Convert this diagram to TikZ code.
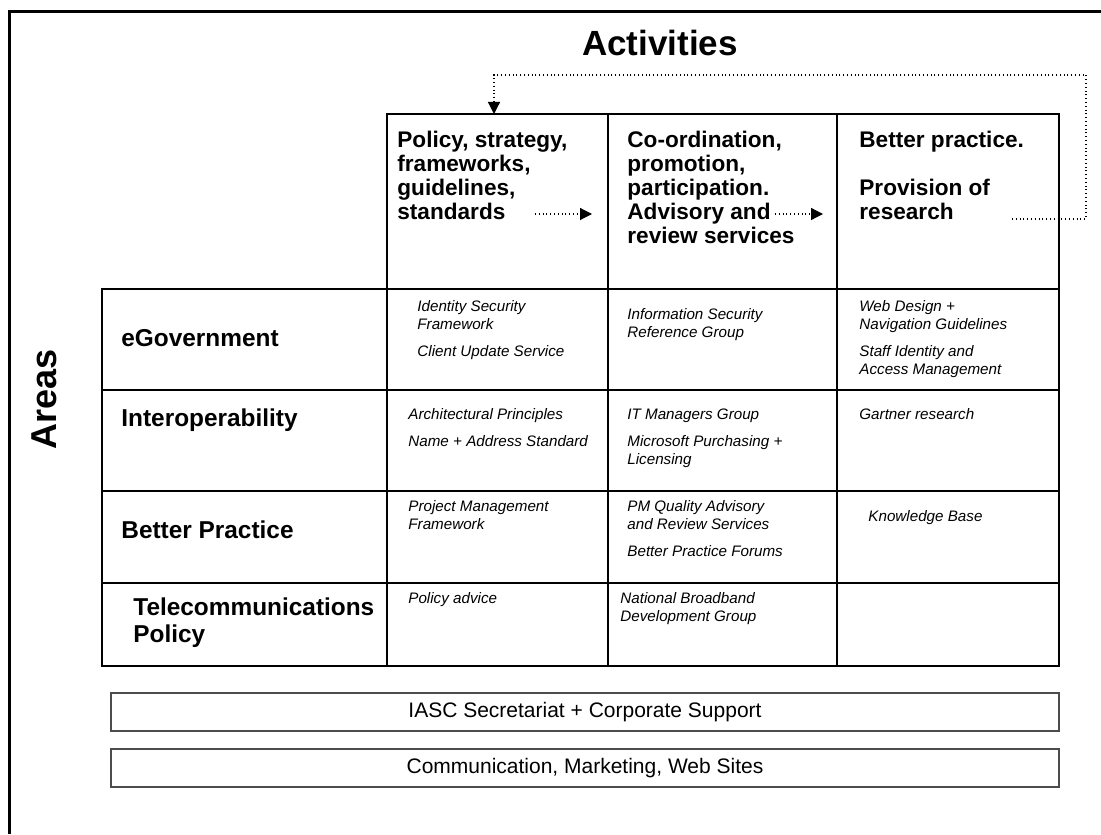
\documentclass[tikz,border=0pt]{standalone}
\usepackage{fontspec}
\setmainfont{Liberation Sans}
\usetikzlibrary{arrows.meta,positioning,calc}
\tikzset{
  tabline/.style={line width=0.75pt, black},
  headtxt/.style={anchor=north west, align=left, inner sep=0pt, font=\fontsize{11.3}{12}\selectfont\bfseries},
  areatxt/.style={anchor=west, align=left, inner sep=0pt, font=\fontsize{12.2}{13.5}\selectfont\bfseries},
  itemtxt/.style={anchor=north west, align=left, inner sep=0pt, font=\fontsize{7.6}{9}\selectfont\itshape},
  suppbox/.style={draw=black!70, line width=1pt, minimum width=474pt, minimum height=19pt, inner sep=0pt, font=\fontsize{10.5}{12}\selectfont},
  flow/.style={-{Triangle[length=6pt,width=6pt]}, dash pattern=on 0.5pt off 1.4pt, line width=0.6pt},
}

\begin{document}
\begin{tikzpicture}[x=0.5pt, y=-0.5pt]
\useasboundingbox (0,0) rectangle (1101,834);
% outer frame
\draw[line width=1.5pt] (9,834) -- (9,12) -- (1101,12);

% titles
\node[font=\fontsize{17.5}{20}\selectfont\bfseries] (acts) at (660,43) {Activities};
\node[font=\fontsize{18}{20}\selectfont\bfseries, rotate=90] (areas) at (44,399) {Areas};

% header cells and table
\draw[tabline] (387,114) rectangle (1059,289);
\draw[tabline] (102,289) rectangle (1059,666);
\draw[tabline] (387,114) -- (387,666);
\draw[tabline] (608,114) -- (608,666);
\draw[tabline] (837,114) -- (837,666);
\draw[tabline] (102,390) -- (1059,390);
\draw[tabline] (102,491) -- (1059,491);
\draw[tabline] (102,583) -- (1059,583);

% activity headings
\node[headtxt] (policy) at (397,131) {Policy, strategy,\\frameworks,\\guidelines,\\standards};
\node[headtxt] (coord) at (627,131) {Co-ordination,\\promotion,\\participation.\\Advisory and\\review services};
\node[headtxt] (better) at (859,131) {Better practice.\\[12pt]Provision of\\research};

% area labels
\node[areatxt] (egov) at (121,338) {eGovernment};
\node[areatxt] (interop) at (121,420) {Interoperability};
\node[areatxt] (bprac) at (121,530) {Better Practice};
\node[areatxt] (telco) at (133,623) {Telecommunications\\Policy};

% cell items
\node[itemtxt] (r1c1) at (417,300) {Identity Security\\Framework\\[4.5pt]Client Update Service};
\node[itemtxt] (r1c2) at (627,308) {Information Security\\Reference Group};
\node[itemtxt] (r1c3) at (859,300) {Web Design +\\Navigation Guidelines\\[4.5pt]Staff Identity and\\Access Management};
\node[itemtxt] (r2c1) at (408,408) {Architectural Principles\\[4.5pt]Name + Address Standard};
\node[itemtxt] (r2c2) at (627,408) {IT Managers Group\\[4.5pt]Microsoft Purchasing +\\Licensing};
\node[itemtxt] (r2c3) at (859,408) {Gartner research};
\node[itemtxt] (r3c1) at (408,500) {Project Management\\Framework};
\node[itemtxt] (r3c2) at (627,500) {PM Quality Advisory\\and Review Services\\[4.5pt]Better Practice Forums};
\node[itemtxt] (r3c3) at (868,510) {Knowledge Base};
\node[itemtxt] (r4c1) at (408,592) {Policy advice};
\node[itemtxt] (r4c2) at (620,592) {National Broadband\\Development Group};

% support boxes
\node[suppbox] (secr) at (585,712) {IASC Secretariat + Corporate Support};
\node[suppbox] (comms) at (585,768) {Communication, Marketing, Web Sites};

% activity flow
\coordinate (f1a) at (535,214);
\coordinate (f1b) at (592,214);
\coordinate (f2a) at (775,214);
\coordinate (f2b) at (823,214);
\coordinate (fb) at (1012,219);
\coordinate (fbr) at (1086,219);
\coordinate (fbt) at (1086,75);
\coordinate (fbl) at (494,75);
\coordinate (fbe) at (494,114);
\draw[flow] (f1a) -- (f1b);
\draw[flow] (f2a) -- (f2b);
\draw[flow] (fb) -- (fbr) -- (fbt) -- (fbl) -- (fbe);
\end{tikzpicture}
\end{document}
